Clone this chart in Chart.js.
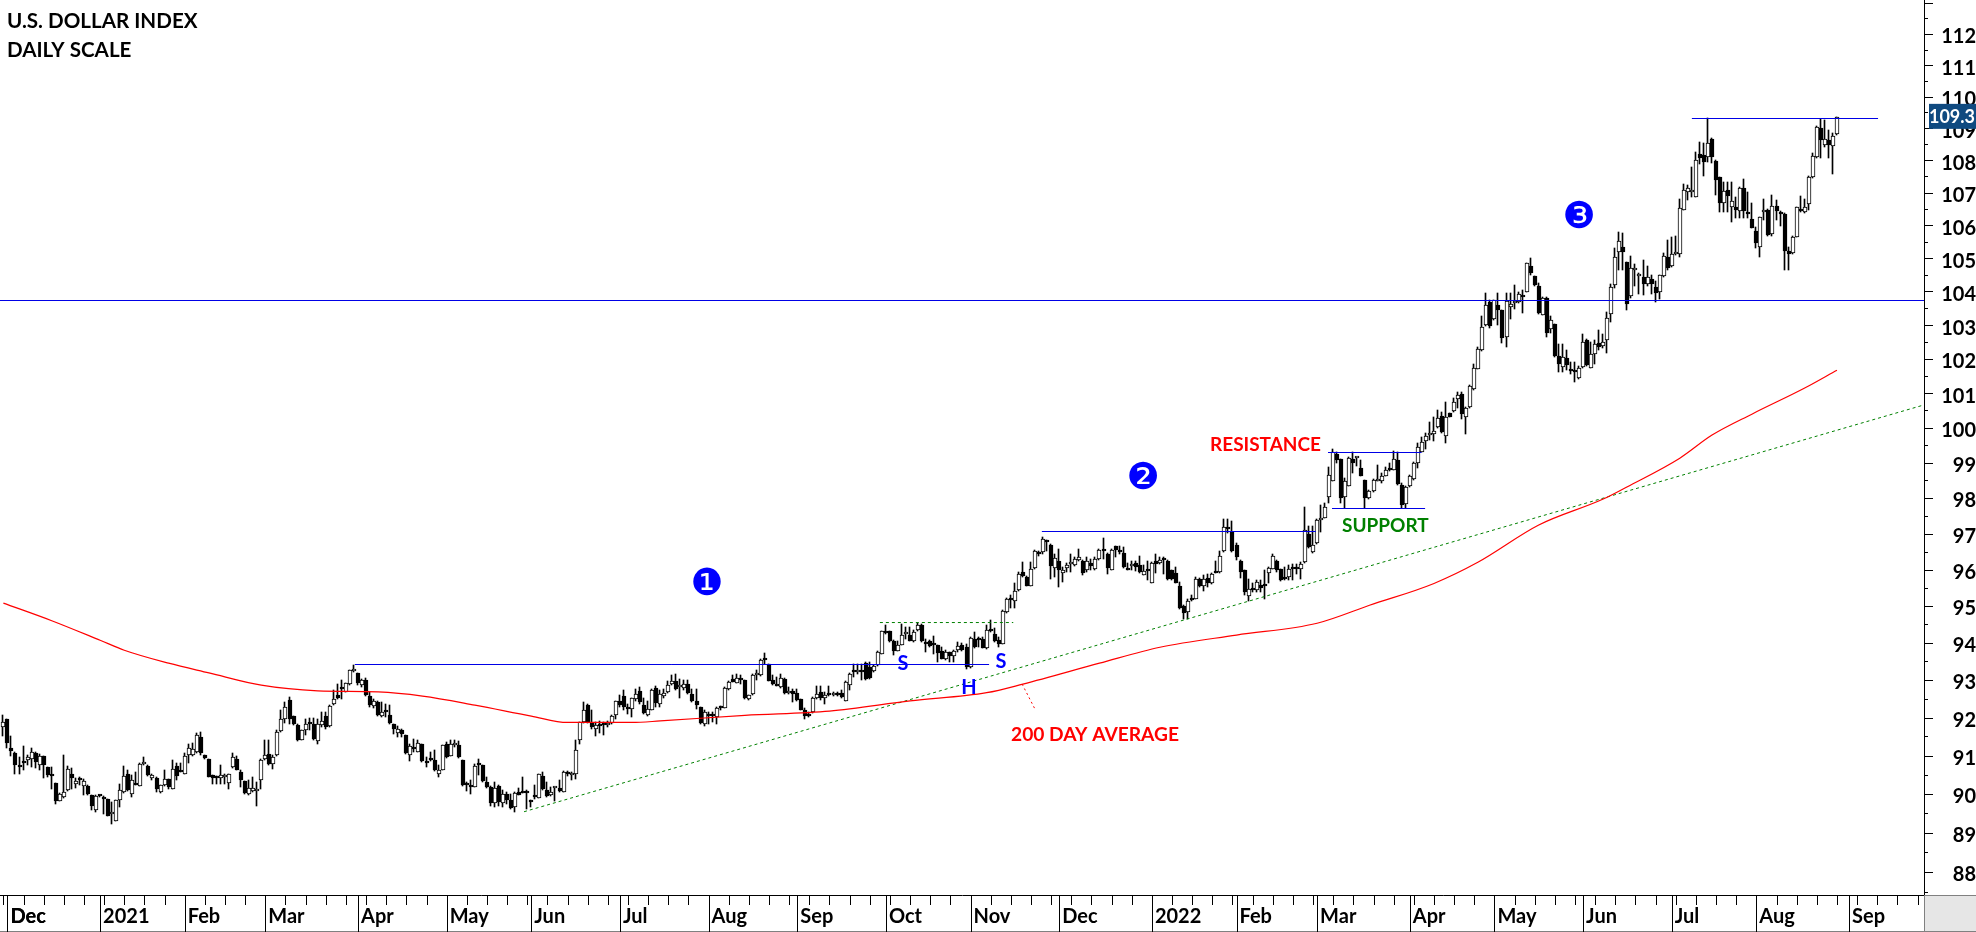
<!DOCTYPE html>
<html>
<head>
<meta charset="utf-8">
<title>U.S. Dollar Index</title>
<style>
    html, body { margin: 0; padding: 0; background: #fff; overflow: hidden; }
    canvas { display: block; }
</style>
<script src="https://cdn.jsdelivr.net/npm/chart.js@4/dist/chart.umd.min.js"></script>
</head>
<body>
<canvas id="chartDxy" width="1976" height="932"></canvas>
<script>
    // Daily candles, one per weekday from 30 Nov 2020
    const opens = [
        91.76,91.95,91.20,91.07,90.73,90.83,90.89,90.92,91.06,90.74,
        90.98,90.69,90.48,90.28,89.82,89.91,90.09,90.52,90.27,90.36,
        90.21,90.21,89.96,89.59,89.95,89.93,89.88,89.47,89.31,89.83,
        90.06,90.51,89.99,90.27,90.21,90.78,90.73,90.41,90.41,90.04,
        90.22,90.38,90.14,90.73,90.59,90.53,91.01,91.02,91.08,91.48,
        91.01,90.91,90.48,90.45,90.41,90.44,90.29,90.71,90.90,90.57,
        90.34,90.01,90.08,90.07,90.35,90.92,91.03,90.79,91.01,91.64,
        91.97,92.47,92.03,91.79,91.42,91.66,91.85,91.83,91.39,91.80,
        92.05,91.77,92.37,92.59,92.78,92.69,92.88,93.23,93.18,92.86,
        93.00,92.56,92.31,92.41,92.03,92.16,92.06,91.83,91.60,91.67,
        91.54,91.02,91.19,91.10,91.29,90.84,90.91,90.89,90.52,90.62,
        91.29,90.99,91.28,91.27,90.88,90.24,90.22,90.19,90.77,90.75,
        90.30,90.18,89.76,90.20,89.76,90.01,89.83,89.66,90.06,90.04,
        90.04,89.83,89.93,89.90,90.46,90.11,89.97,90.15,90.15,90.06,
        90.53,90.48,90.52,91.41,91.88,92.32,91.86,91.70,91.80,91.84,
        91.79,91.86,92.08,92.43,92.57,92.25,92.23,92.49,92.70,92.34,
        92.07,92.20,92.79,92.37,92.57,92.67,92.88,92.96,92.80,92.79,
        92.90,92.62,92.45,92.27,91.83,92.07,92.06,92.01,92.27,92.26,
        92.76,93.03,92.93,93.01,92.99,92.49,92.62,93.13,93.12,93.54,
        93.44,92.99,92.86,92.81,93.02,92.65,92.70,92.66,92.50,92.21,
        92.10,92.14,92.52,92.68,92.53,92.63,92.60,92.63,92.65,92.44,
        92.86,93.23,93.21,93.23,93.45,93.35,93.24,93.39,93.70,94.31,
        94.31,94.06,93.79,93.95,94.23,94.20,94.04,94.35,94.49,93.98,
        94.04,93.97,93.94,93.78,93.55,93.75,93.64,93.80,93.95,93.89,
        93.35,94.10,94.10,94.11,93.85,94.35,94.25,94.08,93.98,94.83,
        95.18,95.13,95.45,95.93,95.80,95.55,96.05,96.46,96.48,96.78,
        96.69,96.05,96.23,95.91,96.05,96.15,96.13,96.27,96.25,95.98,
        96.19,96.03,96.30,96.54,96.42,96.00,96.66,96.53,96.45,96.02,
        96.09,96.18,96.14,95.86,95.98,95.64,96.25,96.19,96.30,96.25,
        95.98,95.92,95.56,95.00,94.84,95.23,95.19,95.75,95.55,95.78,
        95.62,95.94,95.94,96.52,97.18,97.05,96.69,96.25,96.00,95.28,
        95.47,95.44,95.59,95.57,95.92,96.03,96.23,96.01,95.77,95.80,
        96.07,96.07,96.03,96.21,97.00,96.49,96.74,97.39,97.45,98.04,
        98.49,99.24,99.10,98.04,98.35,99.12,99.14,98.86,98.51,97.99,
        98.21,98.49,98.47,98.63,98.81,98.80,99.07,98.37,97.83,98.33,
        98.55,98.98,99.32,99.63,99.80,99.83,100.01,100.34,99.77,100.43,
        100.48,100.82,100.97,100.32,100.60,101.11,101.72,102.25,103.00,103.68,
        103.19,103.59,103.46,102.66,103.54,103.67,103.70,103.87,103.99,104.77,
        104.47,104.16,103.31,103.81,102.88,103.03,102.10,101.76,102.02,101.68,
        101.65,101.43,101.76,102.55,101.75,102.16,102.48,102.37,102.55,103.33,
        104.19,105.18,105.33,104.88,103.88,104.64,104.46,104.43,104.22,104.38,
        104.13,103.98,104.45,105.05,104.76,105.13,105.13,106.48,107.03,107.03,
        106.88,108.19,108.18,108.11,108.67,107.98,107.47,106.67,107.08,106.57,
        106.55,106.44,107.13,106.36,106.18,105.83,105.35,106.41,106.46,105.72,
        106.58,106.37,106.34,105.22,105.15,105.65,106.47,106.41,106.66,107.47,
        108.09,109.00,108.49,108.64,108.46,108.81
    ];
    const highs = [
        92.06,91.95,91.51,91.10,90.97,91.25,91.01,91.19,91.10,91.04,
        90.98,90.69,90.70,90.28,90.03,91.01,90.73,90.67,90.41,90.44,
        90.38,90.23,89.96,89.97,89.97,89.94,89.88,89.80,89.83,90.26,
        90.73,90.62,90.49,90.58,90.80,90.96,90.75,90.52,90.43,90.23,
        90.62,90.38,90.87,90.81,90.80,91.06,91.30,91.32,91.58,91.61,
        91.01,90.91,90.49,90.47,90.74,90.52,90.52,91.06,90.99,90.62,
        90.34,90.36,90.43,90.31,90.90,91.41,91.41,91.01,91.67,92.19,
        92.42,92.55,92.03,91.84,91.66,91.95,91.98,91.98,91.97,92.16,
        92.15,92.32,92.72,92.89,93.00,92.93,93.28,93.41,93.20,93.02,
        93.06,92.67,92.50,92.45,92.41,92.35,92.32,91.83,91.77,91.71,
        91.54,91.30,91.43,91.42,91.29,90.97,91.10,91.14,90.75,91.27,
        91.36,91.42,91.42,91.39,90.88,90.30,90.36,90.79,90.91,90.75,
        90.44,90.20,90.31,90.24,90.10,90.05,90.01,90.05,90.16,90.44,
        90.11,89.83,90.24,90.53,90.58,90.31,90.18,90.18,90.36,90.60,
        90.60,90.58,91.41,91.89,92.41,92.37,92.19,91.89,91.91,91.89,
        91.91,92.06,92.45,92.59,92.72,92.36,92.53,92.77,92.81,92.53,
        92.45,92.77,92.83,92.72,92.77,92.97,93.12,93.17,93.03,93.01,
        93.01,92.77,92.75,92.27,92.19,92.16,92.16,92.28,92.30,92.81,
        92.97,93.12,93.17,93.12,93.01,92.61,93.15,93.26,93.56,93.72,
        93.44,93.12,93.08,93.15,93.04,92.81,92.77,92.77,92.50,92.26,
        92.14,92.54,92.83,92.83,92.68,92.83,92.68,92.68,92.72,92.96,
        93.19,93.44,93.44,93.44,93.48,93.48,93.39,93.79,94.33,94.49,
        94.33,94.08,94.06,94.51,94.42,94.42,94.35,94.55,94.51,94.11,
        94.08,94.18,93.94,93.89,93.80,93.75,93.80,94.03,94.00,93.98,
        94.15,94.30,94.15,94.15,94.48,94.62,94.39,94.16,94.89,95.21,
        95.30,95.62,95.94,96.21,95.82,96.21,96.55,96.53,96.91,96.82,
        96.71,96.44,96.57,96.07,96.18,96.44,96.36,96.57,96.27,96.35,
        96.30,96.36,96.57,96.87,96.45,96.57,96.66,96.66,96.62,96.18,
        96.24,96.24,96.39,96.12,96.25,96.21,96.44,96.36,96.35,96.27,
        96.00,96.07,95.66,95.03,95.18,95.30,95.80,95.77,95.85,95.89,
        95.91,96.25,96.53,97.42,97.40,97.35,96.75,96.28,96.00,95.75,
        95.62,95.71,95.71,96.00,96.07,96.43,96.28,96.03,96.07,96.12,
        96.16,96.16,96.22,97.75,97.21,97.21,97.42,97.80,97.85,98.89,
        99.39,99.31,99.12,98.56,99.17,99.31,99.17,99.08,98.51,98.23,
        98.53,98.93,98.70,98.89,98.98,99.34,99.31,98.42,98.33,98.66,
        99.03,99.55,99.74,99.84,100.17,100.31,100.51,100.46,100.75,100.43,
        100.85,101.04,101.04,100.59,101.23,101.84,102.34,103.26,103.94,103.74,
        103.76,103.94,103.46,103.96,103.94,104.19,103.99,104.04,104.87,105.00,
        104.47,104.24,103.84,103.84,103.28,103.03,102.43,102.43,102.26,101.91,
        101.91,101.78,102.73,102.58,102.51,102.56,102.85,102.75,103.38,104.23,
        105.30,105.80,105.78,104.88,105.08,104.82,104.55,104.95,104.76,104.50,
        104.30,104.50,105.15,105.56,105.64,105.66,106.82,107.26,107.23,107.80,
        108.27,108.58,108.53,109.31,108.69,108.01,107.49,107.32,107.34,107.34,
        106.88,107.18,107.42,107.03,106.67,105.96,106.26,106.81,106.51,106.92,
        106.76,106.43,106.39,105.35,105.66,106.57,106.91,106.82,107.52,108.22,
        109.08,109.29,109.27,108.95,108.84,109.36
    ];
    const lows = [
        91.51,91.19,90.99,90.52,90.52,90.62,90.75,90.70,90.68,90.62,
        90.42,90.45,90.14,89.74,89.82,89.90,90.08,90.14,90.16,90.23,
        89.98,89.98,89.58,89.53,89.93,89.49,89.42,89.22,89.31,89.67,
        90.03,90.08,89.93,90.24,90.21,90.75,90.47,90.36,90.04,90.03,
        90.21,90.14,90.14,90.36,90.57,90.53,90.81,90.99,91.06,91.01,
        90.90,90.43,90.27,90.27,90.26,90.27,90.14,90.68,90.61,90.17,
        90.00,89.96,90.06,89.68,90.13,90.88,90.75,90.65,90.99,91.62,
        91.86,91.84,91.80,91.39,91.41,91.54,91.66,91.40,91.30,91.74,
        91.70,91.75,92.32,92.50,92.50,92.67,92.87,93.22,92.87,92.80,
        92.57,92.28,92.24,92.04,92.02,92.02,91.83,91.56,91.48,91.49,
        91.04,90.86,91.10,91.08,90.84,90.69,90.86,90.60,90.44,90.61,
        90.93,90.99,91.23,90.93,90.21,90.07,90.01,90.18,90.49,90.31,
        90.16,89.68,89.66,89.70,89.66,89.75,89.62,89.53,89.96,90.02,
        89.62,89.66,89.88,89.89,90.11,89.92,89.95,89.82,90.05,90.04,
        90.46,90.36,90.40,91.30,91.86,91.86,91.71,91.51,91.58,91.54,
        91.75,91.84,91.97,92.28,92.20,92.10,92.01,92.45,92.37,92.10,
        92.05,92.19,92.28,92.28,92.53,92.65,92.86,92.74,92.53,92.72,
        92.63,92.41,92.23,91.83,91.78,91.83,91.87,91.83,92.20,92.24,
        92.74,92.94,92.92,92.88,92.50,92.47,92.60,92.99,93.10,93.42,
        92.96,92.86,92.83,92.79,92.63,92.62,92.41,92.45,92.19,91.96,
        92.01,92.12,92.50,92.47,92.37,92.56,92.56,92.56,92.53,92.43,
        92.74,93.08,93.17,93.01,92.99,93.02,93.21,93.37,93.69,94.24,
        94.02,93.66,93.78,93.93,94.11,94.04,94.02,94.33,94.02,93.75,
        93.90,93.71,93.48,93.55,93.53,93.48,93.48,93.75,93.78,93.29,
        93.33,93.87,93.89,93.85,93.83,94.30,94.03,93.89,93.96,94.80,
        94.96,94.96,95.42,95.80,95.55,95.55,96.03,96.39,96.44,96.53,
        95.75,95.80,95.53,95.66,95.94,95.94,96.11,96.24,95.85,95.94,
        96.00,96.00,96.27,96.30,95.87,95.98,96.35,96.44,96.05,95.98,
        96.00,95.96,95.91,95.85,95.71,95.62,95.91,96.16,95.89,95.71,
        95.71,95.62,94.92,94.64,94.64,95.15,95.18,95.53,95.42,95.51,
        95.60,95.91,95.92,96.50,97.02,96.50,96.28,95.78,95.30,95.15,
        95.39,95.39,95.39,95.18,95.64,96.01,95.94,95.69,95.71,95.71,
        95.71,95.87,95.75,96.19,96.60,96.45,96.72,97.05,97.43,97.85,
        98.49,98.98,97.85,97.72,98.33,98.70,98.90,98.62,97.72,97.97,
        98.18,98.47,98.42,98.61,98.76,98.78,98.36,97.72,97.72,98.31,
        98.52,98.84,99.30,99.39,99.65,99.63,99.98,99.84,99.57,100.32,
        100.46,100.56,100.24,99.82,100.58,101.09,101.70,102.22,102.97,102.91,
        103.15,103.00,102.46,102.36,103.19,103.49,103.65,103.36,103.97,104.50,
        104.16,103.34,103.29,102.66,102.78,102.07,101.62,101.63,101.68,101.55,
        101.32,101.41,101.73,101.78,101.73,101.86,102.26,102.33,102.17,103.08,
        104.10,104.65,104.65,103.44,103.82,104.15,103.92,103.90,104.15,103.92,
        103.70,103.78,104.42,104.65,104.74,105.10,105.05,106.46,106.76,106.88,
        106.86,107.88,107.50,107.95,107.92,106.94,106.42,106.40,106.42,106.11,
        106.21,106.21,106.21,106.21,105.91,105.30,105.05,106.16,105.68,105.68,
        106.16,105.99,104.65,104.65,105.12,105.63,106.41,106.39,106.47,107.44,
        108.06,108.08,108.42,108.06,107.58,108.79
    ];
    const closes = [
        91.87,91.34,91.13,90.74,90.71,90.81,90.96,91.08,90.84,90.98,
        90.74,90.48,90.47,89.82,90.01,90.04,90.64,90.41,90.33,90.35,
        90.33,90.00,89.69,89.94,89.94,89.87,89.44,89.52,89.83,90.09,
        90.46,90.10,90.35,90.24,90.78,90.80,90.50,90.48,90.14,90.22,
        90.38,90.18,90.64,90.47,90.57,90.98,91.19,91.16,91.54,91.06,
        90.94,90.45,90.41,90.42,90.48,90.47,90.51,90.95,90.61,90.36,
        90.02,90.16,90.16,90.12,90.88,91.02,90.79,90.95,91.63,91.97,
        92.29,91.97,91.82,91.42,91.66,91.82,91.83,91.43,91.83,91.91,
        91.75,92.31,92.50,92.51,92.75,92.92,93.27,93.24,92.91,92.99,
        92.59,92.32,92.44,92.06,92.16,92.15,91.85,91.70,91.69,91.56,
        91.06,91.24,91.17,91.32,90.86,90.81,90.88,90.62,90.61,91.27,
        90.97,91.29,91.29,90.97,90.23,90.23,90.17,90.72,90.74,90.34,
        90.17,89.76,90.16,89.79,90.01,89.83,89.63,90.03,89.97,90.02,
        90.02,89.79,89.92,90.51,90.13,89.95,90.06,90.17,90.07,90.56,
        90.51,90.51,91.14,91.88,92.21,91.89,91.74,91.79,91.78,91.81,
        91.85,92.03,92.43,92.32,92.28,92.23,92.52,92.62,92.41,92.12,
        92.22,92.74,92.39,92.63,92.66,92.87,92.96,92.76,92.83,92.90,
        92.65,92.44,92.32,91.85,92.14,92.03,92.04,92.26,92.26,92.79,
        92.94,92.95,93.06,92.99,92.52,92.61,93.12,93.14,93.54,93.53,
        92.97,92.88,92.85,93.04,92.66,92.67,92.62,92.47,92.21,92.05,
        92.04,92.53,92.63,92.51,92.59,92.60,92.63,92.60,92.54,92.95,
        93.17,93.21,93.23,93.21,93.03,93.04,93.37,93.76,94.33,94.26,
        94.05,93.78,93.95,94.22,94.24,94.06,94.29,94.48,94.06,93.97,
        93.92,93.95,93.73,93.56,93.74,93.65,93.78,93.92,93.80,93.35,
        94.12,93.89,94.07,93.87,94.34,94.33,94.05,93.98,94.86,95.18,
        95.16,95.40,95.89,95.83,95.55,96.03,96.53,96.43,96.85,96.76,
        96.10,96.33,96.00,96.00,96.14,96.16,96.30,96.35,95.92,96.25,
        96.10,96.30,96.55,96.53,96.05,96.55,96.55,96.49,96.07,96.00,
        96.15,96.07,95.94,95.95,95.96,96.19,96.16,96.28,96.27,95.73,
        95.73,95.64,94.94,94.82,95.15,95.16,95.74,95.55,95.73,95.62,
        95.89,95.92,96.39,97.18,97.12,96.53,96.36,95.94,95.39,95.48,
        95.44,95.65,95.50,95.55,96.05,96.37,95.98,95.71,95.75,96.03,
        96.03,96.03,96.17,97.11,96.62,96.69,97.39,97.41,97.76,98.64,
        99.31,99.09,97.99,98.49,99.13,99.00,99.16,98.62,97.99,98.21,
        98.51,98.51,98.61,98.79,98.78,99.10,98.39,97.81,98.31,98.61,
        98.98,99.46,99.59,99.76,99.82,99.92,100.27,99.88,100.30,100.32,
        100.75,100.94,100.40,100.56,101.20,101.74,102.29,102.93,103.61,102.97,
        103.74,103.46,102.61,103.72,103.64,103.69,103.92,103.85,104.85,104.57,
        104.19,103.36,103.81,102.76,103.15,102.10,101.86,102.05,101.82,101.66,
        101.62,101.75,102.49,101.82,102.14,102.43,102.34,102.51,103.20,104.13,
        105.05,105.52,105.18,103.64,104.70,104.70,104.48,104.22,104.43,104.22,
        103.95,104.48,105.08,104.70,105.12,105.16,106.52,107.08,107.13,107.05,
        108.01,108.08,107.96,108.53,108.09,107.38,106.69,107.06,106.91,106.73,
        106.47,107.15,106.44,106.34,105.93,105.46,106.24,106.47,105.70,106.59,
        106.43,106.35,105.22,105.12,105.63,106.55,106.45,106.55,107.47,108.15,
        109.03,108.64,108.66,108.48,108.77,109.36
    ];

    // 200 day average, read at these candle positions
    const avgBars = [0,12,24,30,41,51,64,78,93,104,117,131,140,156,163,184,205,225,244,253,272,287,306,326,339,355,366,381,397,403,416,424,434,447,455];
    const avgValues = [95.08,94.60,94.07,93.80,93.45,93.19,92.86,92.71,92.68,92.57,92.33,92.04,91.87,91.87,91.91,92.06,92.17,92.44,92.66,92.89,93.45,93.88,94.21,94.53,95.02,95.62,96.21,97.24,97.97,98.32,99.13,99.79,100.40,101.15,101.67];

    // Hand drawn levels: start bar, end bar, price at each end
    const blueLevels = [
        [-0.84, 476.6, 103.76, 103.76],
        [87.2, 244.6, 93.43, 93.43],
        [257.7, 325.7, 97.06, 97.06],
        [328.7, 351.9, 99.32, 99.32],
        [329.7, 352.8, 97.71, 97.71],
        [419, 465.2, 109.31, 109.31]
    ];
    const greenLevels = [
        [129.2, 476.6, 89.54, 100.66],
        [217.5, 250.6, 94.55, 94.55]
    ];
    const pointerLine = [252.8, 256.2, 92.89, 92.18];

    const yLabels = [88,89,90,91,92,93,94,95,96,97,98,99,100,101,102,103,104,105,106,107,108,109,110,111,112];
    const yMin = 87.42;
    const yMax = 113.10;
    const lastPrice = '109.3';
    const lastPriceValue = 109.36;

    const monthNames = ['Jan','Feb','Mar','Apr','May','Jun','Jul','Aug','Sep','Oct','Nov','Dec'];
    const xMin = -0.84;
    const xMax = 476.6;

    // Weekdays along the axis, the candles sit on these
    const categories = [];
    const cursor = new Date(Date.UTC(2020, 10, 30));
    while (categories.length <= Math.ceil(xMax)) {
        if (cursor.getUTCDay() !== 0 && cursor.getUTCDay() !== 6) categories.push(new Date(cursor));
        cursor.setUTCDate(cursor.getUTCDate() + 1);
    }
    const monthBars = [];
    const mondayBars = [];
    categories.forEach((d, i) => {
        if (i > 0 && d.getUTCMonth() !== categories[i - 1].getUTCMonth()) monthBars.push(i);
        if (d.getUTCDay() === 1) mondayBars.push(i);
    });

    function monthLabel(i) {
        const d = categories[i];
        return d.getUTCMonth() === 0 ? String(d.getUTCFullYear()) : monthNames[d.getUTCMonth()];
    }

    const uiFont = 'Lato, "Open Sans", sans-serif';

    function levelDataset(level, color, dash, width, snap) {
        return {
            type: 'line',
            data: [{ x: level[0], y: level[2] }, { x: level[1], y: level[3] }],
            borderColor: color,
            borderWidth: width,
            borderDash: dash,
            pointRadius: 0,
            tension: 0,
            snapLine: snap,
            order: 1
        };
    }

    const notes = [
        { text: 'U.S. DOLLAR INDEX', x: 7, y: 21, color: '#000', size: 20.6, align: 'left' },
        { text: 'DAILY SCALE', x: 7, y: 50, color: '#000', size: 20.6, align: 'left' },
        { text: 'RESISTANCE', x: 1321, y: 445, color: '#ff0000', size: 19, align: 'right' },
        { text: 'SUPPORT', x: 1342, y: 526, color: '#008000', size: 19, align: 'left' },
        { text: '200 DAY AVERAGE', x: 1011, y: 735, color: '#ff0000', size: 19.2, align: 'left' },
        { text: 'S', x: 903, y: 664, color: '#0000ff', size: 20, align: 'center' },
        { text: 'S', x: 1001, y: 662, color: '#0000ff', size: 20, align: 'center' },
        { text: 'H', x: 969, y: 688, color: '#0000ff', size: 20, align: 'center' }
    ];
    const badges = [
        { text: '\u2776', x: 707, y: 585 },
        { text: '\u2777', x: 1143, y: 479 },
        { text: '\u2778', x: 1579, y: 218 }
    ];

    // Keep candles and flat levels on whole pixels so they stay crisp
    const snapPlugin = {
        id: 'snap',
        afterDatasetsUpdate(chart) {
            chart.data.datasets.forEach((ds, index) => {
                const meta = chart.getDatasetMeta(index);
                if (ds.type === 'bar') {
                    const shift = ds.barThickness === 1 ? -0.5 : 0;
                    meta.data.forEach(el => {
                        el.x = Math.round(el.x) + shift;
                        el.y = Math.round(el.y);
                        el.base = Math.round(el.base);
                    });
                } else if (ds.snapLine) {
                    meta.data.forEach(pt => { pt.y = Math.round(pt.y) + 0.5; });
                }
            });
        }
    };

    // Frame, tick marks, notes and the last price flag
    const overlayPlugin = {
        id: 'overlay',
        afterDraw(chart) {
            const ctx = chart.ctx;
            const xs = chart.scales.x;
            const ys = chart.scales.y;
            const bottom = chart.chartArea.bottom;
            const right = chart.chartArea.right;

            ctx.save();
            ctx.fillStyle = '#e6e6e6';
            ctx.fillRect(right, bottom, chart.width - right, chart.height - bottom);
            ctx.fillStyle = '#808080';
            ctx.fillRect(0, chart.height - 1, chart.width, 1);
            ctx.fillRect(right, bottom, chart.width - right, 1);
            ctx.fillRect(right, bottom, 1, chart.height - bottom);

            ctx.fillStyle = '#000';
            mondayBars.forEach(i => {
                const px = Math.round(xs.getPixelForValue(i));
                if (px >= 0 && px < right) ctx.fillRect(px, bottom, 1, 10);
            });
            monthBars.forEach(i => {
                const px = Math.round(xs.getPixelForValue(i));
                if (px < right) ctx.fillRect(px, bottom, 1, chart.height - bottom);
            });
            for (let v = 87.5; v <= 113; v += 0.5) {
                const py = Math.round(ys.getPixelForValue(v));
                ctx.fillRect(right, py, Number.isInteger(v) ? 9 : 4, 1);
            }

            ctx.textBaseline = 'middle';
            notes.forEach(n => {
                ctx.font = 'bold ' + n.size + 'px ' + uiFont;
                ctx.fillStyle = n.color;
                ctx.textAlign = n.align;
                ctx.fillText(n.text, n.x, n.y);
            });
            ctx.font = '37px "DejaVu Sans"';
            ctx.textAlign = 'center';
            ctx.fillStyle = '#0000ff';
            badges.forEach(b => ctx.fillText(b.text, b.x, b.y));

            const flagY = ys.getPixelForValue(lastPriceValue);
            ctx.fillStyle = '#0f4a80';
            ctx.fillRect(1929, flagY - 13, 47, 25);
            ctx.fillStyle = '#fff';
            ctx.font = 'bold 18px ' + uiFont;
            ctx.textAlign = 'right';
            ctx.fillText(lastPrice, 1975, flagY);
            ctx.restore();
        }
    };

    function dropScalePadding(scale) {
        scale.paddingTop = 0;
        scale.paddingBottom = 0;
        scale.paddingLeft = 0;
        scale.paddingRight = 0;
    }

    new Chart(document.getElementById('chartDxy'), {
        data: {
            datasets: [
                {
                    type: 'bar',
                    data: lows.map((l, i) => ({ x: i, y: [l, highs[i]] })),
                    backgroundColor: '#000',
                    borderWidth: 0,
                    barThickness: 1,
                    grouped: false,
                    order: 3
                },
                {
                    type: 'bar',
                    data: opens.map((o, i) => ({ x: i, y: [o, closes[i]] })),
                    backgroundColor: ctx => closes[ctx.dataIndex] >= opens[ctx.dataIndex] ? '#fff' : '#000',
                    borderColor: '#000',
                    borderWidth: 1,
                    borderSkipped: false,
                    barThickness: 4,
                    minBarLength: 2,
                    grouped: false,
                    order: 2
                },
                {
                    type: 'line',
                    data: avgBars.map((b, i) => ({ x: b, y: avgValues[i] })),
                    borderColor: '#ff0000',
                    borderWidth: 1.2,
                    pointRadius: 0,
                    cubicInterpolationMode: 'monotone',
                    order: 1
                },
                ...blueLevels.map(l => levelDataset(l, '#0000e6', [], 1, true)),
                ...greenLevels.map(l => levelDataset(l, '#008000', [3, 3], 1, false)),
                levelDataset(pointerLine, '#ff0000', [2, 3], 1, false)
            ]
        },
        options: {
            responsive: false,
            animation: false,
            devicePixelRatio: 1,
            layout: { padding: 0 },
            plugins: {
                legend: { display: false },
                tooltip: { enabled: false }
            },
            scales: {
                x: {
                    type: 'linear',
                    min: xMin,
                    max: xMax,
                    offset: false,
                    afterBuildTicks: scale => {
                        scale.ticks = [1].concat(monthBars).map(i => ({ value: i }));
                    },
                    afterFit: scale => {
                        scale.height = 37;
                        dropScalePadding(scale);
                    },
                    grid: { display: false, offset: false, drawTicks: false },
                    border: { display: true, color: '#000', width: 1 },
                    ticks: {
                        autoSkip: false,
                        maxRotation: 0,
                        align: 'start',
                        labelOffset: 3,
                        padding: 10,
                        color: '#000',
                        font: { family: uiFont, size: 20, weight: 'bold' },
                        callback: value => monthLabel(value)
                    }
                },
                y: {
                    type: 'logarithmic',
                    position: 'right',
                    min: yMin,
                    max: yMax,
                    bounds: 'data',
                    afterBuildTicks: scale => {
                        scale.ticks = yLabels.map(v => ({ value: v }));
                    },
                    afterFit: scale => {
                        scale.width = 52;
                        dropScalePadding(scale);
                    },
                    grid: { display: false, drawTicks: false },
                    border: { display: true, color: '#000', width: 1 },
                    ticks: {
                        autoSkip: false,
                        crossAlign: 'far',
                        padding: 16,
                        labelOffset: 3,
                        color: '#000',
                        font: { family: uiFont, size: 20, weight: 'bold' },
                        callback: value => String(value)
                    }
                }
            }
        },
        plugins: [snapPlugin, overlayPlugin]
    });
</script>
</body>
</html>
